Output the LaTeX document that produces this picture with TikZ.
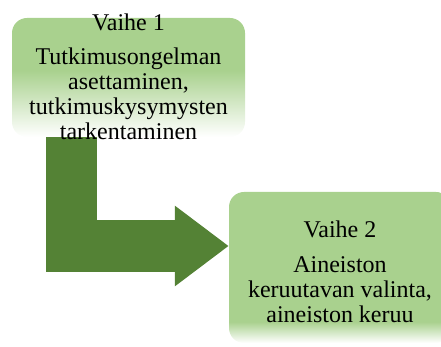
\documentclass[tikz,border=0pt]{standalone}
\usepackage{fontspec}
\setmainfont{Liberation Serif}
\usetikzlibrary{arrows.meta}
\definecolor{stagegreen}{HTML}{A9D18E}
\definecolor{arrowgreen}{HTML}{548235}
\pgfdeclareverticalshading{stageonefade}{100bp}{color(0bp)=(white); color(25bp)=(white); color(53bp)=(stagegreen); color(100bp)=(stagegreen)}
\pgfdeclareverticalshading{stagetwofade}{100bp}{color(0bp)=(white); color(25bp)=(white); color(32bp)=(stagegreen); color(100bp)=(stagegreen)}
\tikzset{
  stagebox/.style={shape=rectangle, rounded corners=15pt, inner sep=0pt},
  stagetext/.style={align=center, inner sep=0pt, anchor=north, font=\fontsize{24}{25}\selectfont}
}
\begin{document}
\begin{tikzpicture}[x=1pt, y=1pt]
\clip (0,0) rectangle (441,347);
\node[stagebox, shading=stageonefade, minimum width=233pt, minimum height=119pt] (box1) at (128.5, 269.5) {};
\node[stagebox, shading=stagetwofade, minimum width=222pt, minimum height=151pt] (box2) at (340, 79.5) {};
\coordinate (bend) at (71.5, 101);
\draw[arrowgreen, line width=51.5pt, line join=miter, -{Triangle[width=77pt, length=54pt]}] (box1.south -| bend) -- (bend) -- (box2.west |- bend);
\node[stagetext] (text1) at (128.5, 333.4) {Vaihe 1\\[9pt] Tutkimusongelman\\ asettaminen,\\ tutkimuskysymysten\\ tarkentaminen};
\node[stagetext] (text2) at (340, 126.4) {Vaihe 2\\[10pt] Aineiston\\ keruutavan valinta,\\ aineiston keruu};
\end{tikzpicture}
\end{document}
